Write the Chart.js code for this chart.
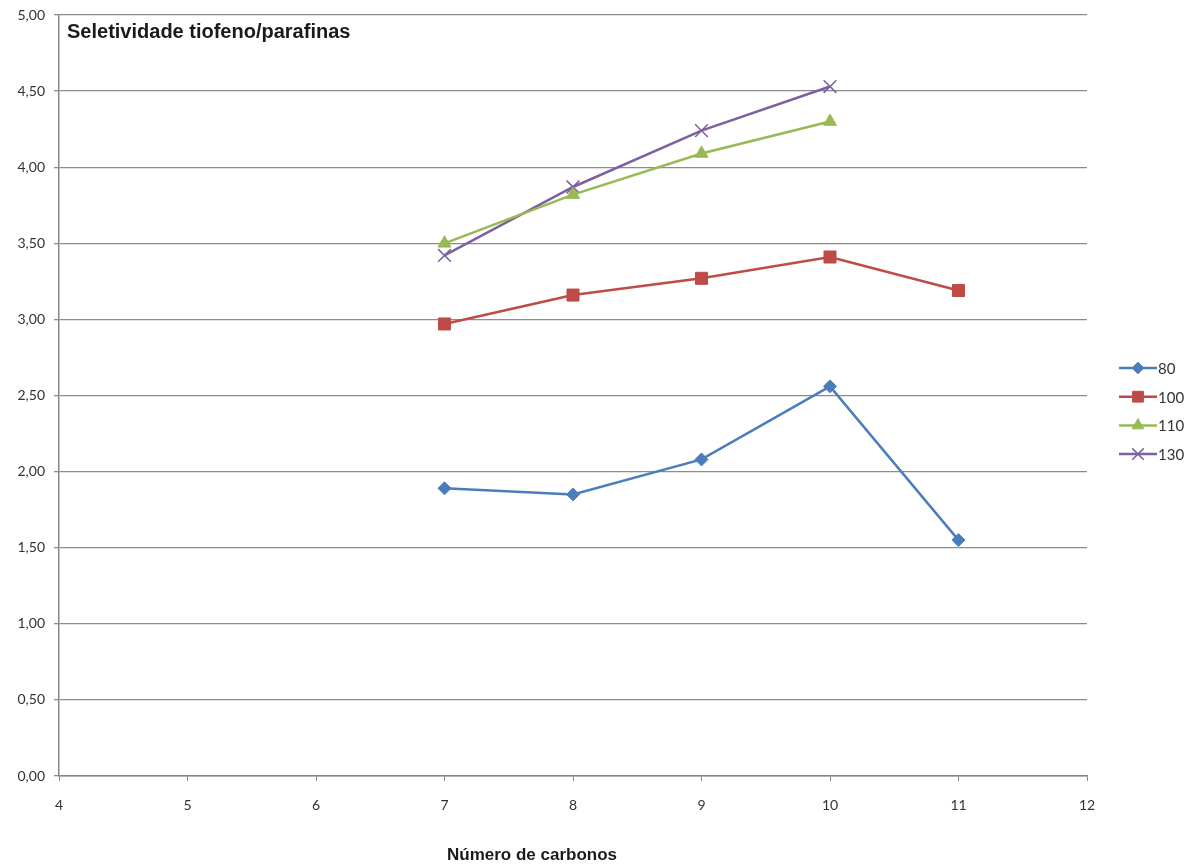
<!DOCTYPE html>
<html>
<head>
<meta charset="utf-8">
<script src="https://cdn.jsdelivr.net/npm/chart.js@4.4.1/dist/chart.umd.min.js"></script>
<style>
  html, body { margin: 0; padding: 0; background: #ffffff; }
  #wrap { width: 1200px; height: 868px; position: relative; }
</style>
</head>
<body>
<div id="wrap"><canvas id="chart" width="1200" height="868"></canvas></div>
<script>
// Number of carbon atoms (x) and selectivity thiophene/paraffins per temperature
const carbons80  = [7, 8, 9, 10, 11];
const values80   = [1.89, 1.85, 2.08, 2.56, 1.55];
const carbons100 = [7, 8, 9, 10, 11];
const values100  = [2.97, 3.16, 3.27, 3.41, 3.19];
const carbons110 = [7, 8, 9, 10];
const values110  = [3.50, 3.82, 4.09, 4.30];
const carbons130 = [7, 8, 9, 10];
const values130  = [3.42, 3.87, 4.24, 4.53];

const seriesLabels = ['80', '100', '110', '130'];
const chartTitle = 'Seletividade tiofeno/parafinas';
const xAxisTitle = 'Número de carbonos';

const toPoints = (xs, ys) => xs.map((x, i) => ({ x: x, y: ys[i] }));

const styles = [
  { color: '#4A7EBB', pointStyle: 'rectRot', radius: 6.5 },
  { color: '#BE4B48', pointStyle: 'rect', radius: 8.5 },
  { color: '#98B954', pointStyle: 'triangle', radius: 7.5 },
  { color: '#7D60A0', pointStyle: 'crossRot', radius: 9 }
];

const seriesData = [
  toPoints(carbons80, values80),
  toPoints(carbons100, values100),
  toPoints(carbons110, values110),
  toPoints(carbons130, values130)
];

const datasets = seriesData.map((pts, i) => ({
  label: seriesLabels[i],
  data: pts,
  showLine: true,
  borderColor: styles[i].color,
  backgroundColor: styles[i].color,
  borderWidth: 2.5,
  pointStyle: styles[i].pointStyle,
  pointRadius: styles[i].radius,
  pointBorderWidth: styles[i].pointStyle === 'crossRot' ? 1.5 : 1,
  pointBorderColor: styles[i].color,
  pointBackgroundColor: styles[i].color,
  tension: 0
}));

const tickFont = 'Lato, "Open Sans", sans-serif';

// Title inside the plot, x-axis title and line+marker legend on the right
const decorations = {
  id: 'decorations',
  afterDraw(chart) {
    const ctx = chart.ctx;
    const area = chart.chartArea;
    ctx.save();
    ctx.fillStyle = '#1a1a1a';
    ctx.font = 'bold 20px "Liberation Sans", Arial, sans-serif';
    ctx.textBaseline = 'middle';
    ctx.textAlign = 'left';
    ctx.fillText(chartTitle, area.left + 8, 32);

    ctx.font = 'bold 17px "Liberation Sans", Arial, sans-serif';
    ctx.textAlign = 'center';
    ctx.fillText(xAxisTitle, 532, 855);

    // legend
    const lx = 1119, ly = 368, step = 28.7;
    chart.data.datasets.forEach((ds, i) => {
      const y = ly + i * step;
      ctx.strokeStyle = ds.borderColor;
      ctx.lineWidth = 2.5;
      ctx.beginPath();
      ctx.moveTo(lx, y);
      ctx.lineTo(lx + 38, y);
      ctx.stroke();
      ctx.fillStyle = ds.borderColor;
      ctx.strokeStyle = ds.borderColor;
      ctx.lineWidth = ds.pointBorderWidth;
      Chart.helpers.drawPoint(ctx, {
        pointStyle: ds.pointStyle,
        radius: ds.pointRadius * 0.9,
        rotation: 0,
        borderWidth: ds.pointBorderWidth
      }, lx + 19, y);
      ctx.fillStyle = '#333333';
      ctx.font = '15px ' + tickFont;
      ctx.textAlign = 'left';
      ctx.fillText(ds.label, lx + 39, y + 1);
    });
    ctx.restore();
  }
};

new Chart(document.getElementById('chart'), {
  type: 'scatter',
  data: { datasets: datasets },
  options: {
    responsive: false,
    animation: false,
    layout: { padding: { left: 0, right: 113, top: 15, bottom: 0 } },
    plugins: {
      legend: { display: false },
      tooltip: { enabled: false }
    },
    scales: {
      x: {
        type: 'linear',
        min: 4,
        max: 12,
        afterFit(scale) {
          scale.height = 92;
          scale.paddingLeft = 0;
          scale.paddingRight = 0;
        },
        border: { display: true, color: '#868686', width: 1.5 },
        grid: {
          drawOnChartArea: false,
          drawTicks: true,
          tickLength: 5,
          color: '#868686'
        },
        ticks: {
          stepSize: 1,
          padding: 16,
          color: '#333333',
          font: { family: tickFont, size: 14 }
        }
      },
      y: {
        type: 'linear',
        min: 0,
        max: 5,
        afterFit(scale) {
          scale.width = 59;
          scale.paddingTop = 0;
          scale.paddingBottom = 0;
        },
        border: { display: true, color: '#868686', width: 1.5 },
        grid: {
          drawOnChartArea: true,
          drawTicks: true,
          tickLength: 5,
          color: '#8c8c8c',
          lineWidth: 1.3
        },
        ticks: {
          stepSize: 0.5,
          padding: 9,
          color: '#333333',
          font: { family: tickFont, size: 14 },
          callback: (v) => Number(v).toFixed(2).replace('.', ',')
        }
      }
    }
  },
  plugins: [decorations]
});
</script>
</body>
</html>
